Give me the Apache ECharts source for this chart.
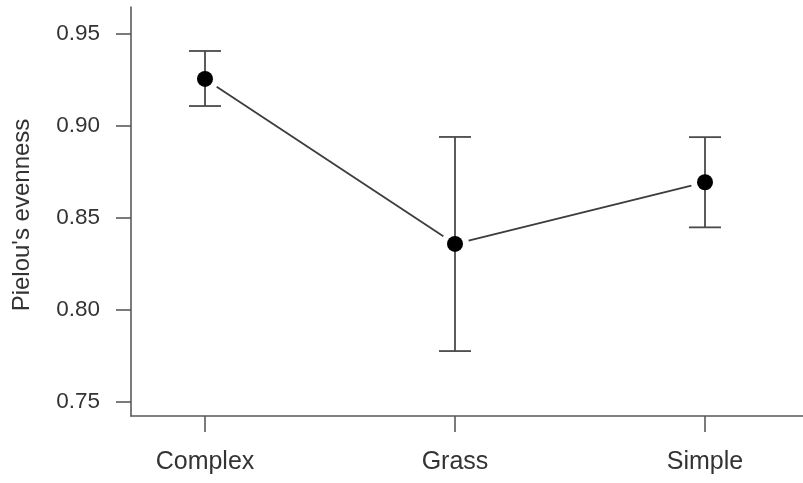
<!DOCTYPE html>
<html>
<head>
<meta charset="utf-8">
<script src="https://cdn.jsdelivr.net/npm/echarts@6/dist/echarts.min.js"></script>
<style>
  html, body { margin: 0; padding: 0; background: #fff; }
  #chart { width: 803px; height: 483px; }
</style>
</head>
<body>
<div id="chart"></div>
<script>
// Habitat categories and their mean evenness with error-bar limits
const categories = ['Complex', 'Grass', 'Simple'];
const means = [0.9253, 0.8357, 0.8692];
const lower = [0.9106, 0.7775, 0.8447];
const upper = [0.9405, 0.8938, 0.8937];
const yTicks = [0.75, 0.80, 0.85, 0.90, 0.95];

const xPos = categories.map((c, i) => i + 1);
const pointData = means.map((m, i) => [xPos[i], m]);
const barData = means.map((m, i) => [xPos[i], lower[i], upper[i]]);
const segData = [];
for (let i = 0; i < means.length - 1; i++) {
  segData.push([xPos[i], means[i], xPos[i + 1], means[i + 1]]);
}

const ink = '#333333';
const axisInk = '#5a5a5a';
const font = 'Liberation Sans, Arial, sans-serif';

const chart = echarts.init(document.getElementById('chart'), null, { renderer: 'canvas' });

chart.setOption({
  animation: false,
  grid: { left: 131, right: 0, top: 7, bottom: 67 },
  xAxis: {
    type: 'value',
    min: 0.704,
    max: 3.392,
    splitLine: { show: false },
    axisLine: { show: true, lineStyle: { color: axisInk, width: 1.6 } },
    axisTick: { show: true, length: 16, customValues: xPos, lineStyle: { color: axisInk, width: 1.6 } },
    axisLabel: {
      customValues: xPos,
      margin: 34,
      color: ink,
      fontSize: 25,
      fontFamily: font,
      formatter: v => categories[Math.round(v) - 1] || ''
    }
  },
  yAxis: {
    type: 'value',
    min: 0.74223,
    max: 0.96439,
    splitLine: { show: false },
    axisLine: { show: true, lineStyle: { color: axisInk, width: 1.6 } },
    axisTick: { show: true, length: 15, customValues: yTicks, lineStyle: { color: axisInk, width: 1.6 } },
    axisLabel: {
      customValues: yTicks,
      margin: 31,
      color: ink,
      fontSize: 22.5,
      fontFamily: font,
      formatter: v => v.toFixed(2)
    },
    name: "Pielou's evenness",
    nameLocation: 'middle',
    nameGap: 97,
    nameTextStyle: { color: ink, fontSize: 24, fontFamily: font, padding: [0, 7, 0, 0] }
  },
  series: [
    {
      // connecting segments, trimmed short of each point
      type: 'custom',
      data: segData,
      renderItem: (params, api) => {
        const a = api.coord([api.value(0), api.value(1)]);
        const b = api.coord([api.value(2), api.value(3)]);
        const dx = b[0] - a[0], dy = b[1] - a[1];
        const len = Math.sqrt(dx * dx + dy * dy);
        const gap = 14;
        const ux = dx / len, uy = dy / len;
        return {
          type: 'line',
          shape: {
            x1: a[0] + ux * gap, y1: a[1] + uy * gap,
            x2: b[0] - ux * gap, y2: b[1] - uy * gap
          },
          style: { stroke: '#3c3c3c', lineWidth: 1.8 }
        };
      },
      z: 2
    },
    {
      // error bars with caps
      type: 'custom',
      data: barData,
      renderItem: (params, api) => {
        const lo = api.coord([api.value(0), api.value(1)]);
        const hi = api.coord([api.value(0), api.value(2)]);
        const half = 16;
        const st = { stroke: '#4a4a4a', lineWidth: 1.8 };
        return {
          type: 'group',
          children: [
            { type: 'line', shape: { x1: lo[0], y1: lo[1], x2: hi[0], y2: hi[1] }, style: st },
            { type: 'line', shape: { x1: lo[0] - half, y1: lo[1], x2: lo[0] + half, y2: lo[1] }, style: st },
            { type: 'line', shape: { x1: hi[0] - half, y1: hi[1], x2: hi[0] + half, y2: hi[1] }, style: st }
          ]
        };
      },
      z: 3
    },
    {
      type: 'scatter',
      data: pointData,
      symbol: 'circle',
      symbolSize: 16,
      itemStyle: { color: '#000', opacity: 1 },
      z: 4
    }
  ]
});
</script>
</body>
</html>
